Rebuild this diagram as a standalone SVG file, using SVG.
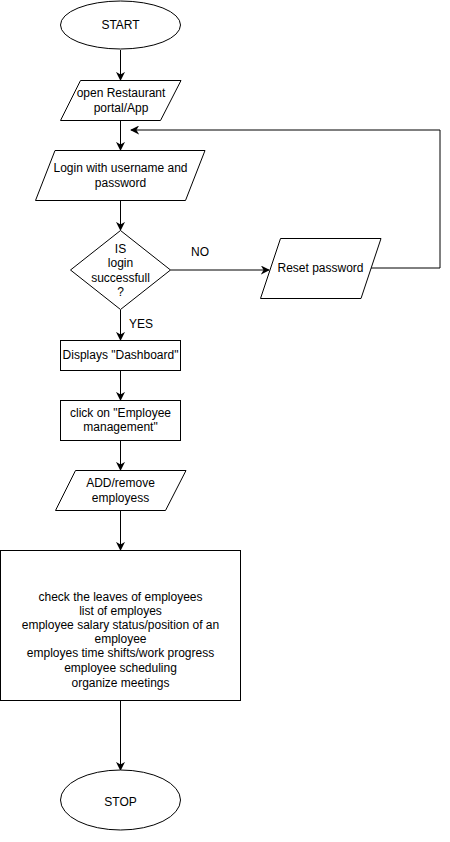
<svg xmlns="http://www.w3.org/2000/svg" width="450" height="842" viewBox="0 0 450 842">
<style>
.s{fill:#fff;stroke:#000;stroke-width:1}
.t{font-family:"Liberation Sans",Arial,sans-serif;font-size:12px;fill:#000;text-anchor:middle;dominant-baseline:central}
.c{fill:none;stroke:#000;stroke-width:1;marker-end:url(#a)}
</style>
<defs>
<marker id="a" viewBox="0 0 10 10" refX="9" refY="5" markerWidth="9" markerHeight="9" markerUnits="userSpaceOnUse" orient="auto">
<path d="M0,0 L10,5 L0,10 L3,5 Z" fill="#000"/>
</marker>
</defs>
<rect width="450" height="842" fill="#fff"/>
<g id="connectors">
<path class="c" d="M120.5,50 V80"/>
<path class="c" d="M120.5,120 V150"/>
<path class="c" d="M120.5,200 V230"/>
<path class="c" d="M170.5,270 H269"/>
<path class="c" d="M371,268 H440 V130 H131"/>
<path class="c" d="M120.5,310 V340"/>
<path class="c" d="M120.5,370 V400"/>
<path class="c" d="M120.5,440 V470"/>
<path class="c" d="M120.5,510 V550"/>
<path class="c" d="M120.5,700 V770"/>
<text class="t" x="200" y="252">NO</text>
<text class="t" x="141" y="324">YES</text>
</g>
<g id="start">
<ellipse class="s" cx="120.5" cy="25" rx="60" ry="24"/>
<text class="t" x="120.5" y="25">START</text>
</g>
<g id="open">
<polygon class="s" points="80.5,80.5 181,80.5 160.5,120.5 60.5,120.5"/>
<text class="t" x="121" y="93">open Restaurant</text>
<text class="t" x="121" y="108">portal/App</text>
</g>
<g id="login">
<polygon class="s" points="55,150.5 205,150.5 185.5,200.5 35.5,200.5"/>
<text class="t" x="120.5" y="168">Login with username and</text>
<text class="t" x="120.5" y="183">password</text>
</g>
<g id="decision">
<polygon class="s" points="120.5,230.5 170.5,270 120.5,309.5 70.5,270"/>
<text class="t" x="120.5" y="249">IS</text>
<text class="t" x="120.5" y="263">login</text>
<text class="t" x="120.5" y="278">successfull</text>
<text class="t" x="120.5" y="292">?</text>
</g>
<g id="reset">
<polygon class="s" points="280.5,238.5 381,238.5 361,298.5 260.5,298.5"/>
<text class="t" x="320.5" y="268">Reset password</text>
</g>
<g id="dashboard">
<rect class="s" x="60.5" y="340.5" width="120" height="30"/>
<text class="t" x="120.5" y="355">Displays "Dashboard"</text>
</g>
<g id="click">
<rect class="s" x="60.5" y="400.5" width="120" height="40"/>
<text class="t" x="120.5" y="413">click on "Employee</text>
<text class="t" x="120.5" y="427">management"</text>
</g>
<g id="add">
<polygon class="s" points="75.5,470.5 186,470.5 165.5,510.5 55.5,510.5"/>
<text class="t" x="120.5" y="483">ADD/remove</text>
<text class="t" x="120.5" y="498">employess</text>
</g>
<g id="tasks">
<rect class="s" x="0.5" y="550.5" width="240" height="150"/>
<text class="t" x="120.5" y="597">check the leaves of employees</text>
<text class="t" x="120.5" y="611">list of employes</text>
<text class="t" x="120.5" y="625">employee salary status/position of an</text>
<text class="t" x="120.5" y="639">employee</text>
<text class="t" x="120.5" y="653">employes time shifts/work progress</text>
<text class="t" x="120.5" y="668">employee scheduling</text>
<text class="t" x="120.5" y="683">organize meetings</text>
</g>
<g id="stop">
<ellipse class="s" cx="120.5" cy="800" rx="60" ry="30"/>
<text class="t" x="120.5" y="802">STOP</text>
</g>
</svg>
